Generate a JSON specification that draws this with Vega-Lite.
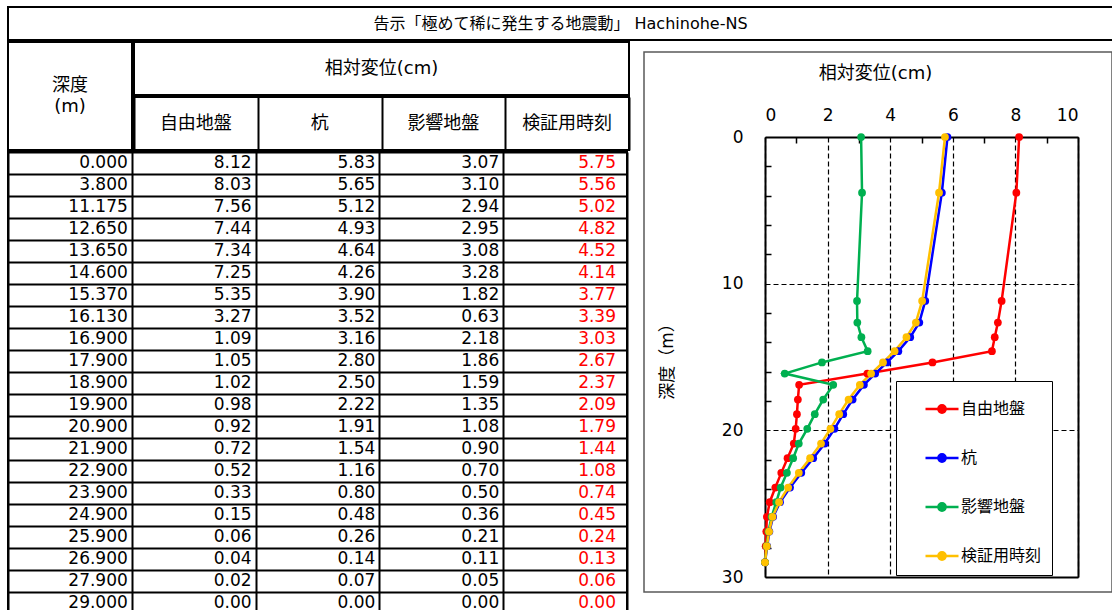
{
  "$schema": "https://vega.github.io/schema/vega-lite/v6.json",
  "padding": {"left": 7, "top": 6, "right": 0, "bottom": 0},
  "background": "white",
  "spacing": 0,
  "config": {
    "font": "DejaVu Sans, Noto Sans CJK JP",
    "view": {"stroke": "black", "strokeWidth": 2},
    "text": {"color": "black"},
    "axis": {"labelColor": "black", "titleColor": "black", "titleFontWeight": "normal"},
    "legend": {"labelColor": "black"}
  },
  "datasets": {
    "d": [
      {"深度": 0.000, "自由地盤": 8.12, "杭": 5.83, "影響地盤": 3.07, "検証用時刻": 5.75},
      {"深度": 3.800, "自由地盤": 8.03, "杭": 5.65, "影響地盤": 3.10, "検証用時刻": 5.56},
      {"深度": 11.175, "自由地盤": 7.56, "杭": 5.12, "影響地盤": 2.94, "検証用時刻": 5.02},
      {"深度": 12.650, "自由地盤": 7.44, "杭": 4.93, "影響地盤": 2.95, "検証用時刻": 4.82},
      {"深度": 13.650, "自由地盤": 7.34, "杭": 4.64, "影響地盤": 3.08, "検証用時刻": 4.52},
      {"深度": 14.600, "自由地盤": 7.25, "杭": 4.26, "影響地盤": 3.28, "検証用時刻": 4.14},
      {"深度": 15.370, "自由地盤": 5.35, "杭": 3.90, "影響地盤": 1.82, "検証用時刻": 3.77},
      {"深度": 16.130, "自由地盤": 3.27, "杭": 3.52, "影響地盤": 0.63, "検証用時刻": 3.39},
      {"深度": 16.900, "自由地盤": 1.09, "杭": 3.16, "影響地盤": 2.18, "検証用時刻": 3.03},
      {"深度": 17.900, "自由地盤": 1.05, "杭": 2.80, "影響地盤": 1.86, "検証用時刻": 2.67},
      {"深度": 18.900, "自由地盤": 1.02, "杭": 2.50, "影響地盤": 1.59, "検証用時刻": 2.37},
      {"深度": 19.900, "自由地盤": 0.98, "杭": 2.22, "影響地盤": 1.35, "検証用時刻": 2.09},
      {"深度": 20.900, "自由地盤": 0.92, "杭": 1.91, "影響地盤": 1.08, "検証用時刻": 1.79},
      {"深度": 21.900, "自由地盤": 0.72, "杭": 1.54, "影響地盤": 0.90, "検証用時刻": 1.44},
      {"深度": 22.900, "自由地盤": 0.52, "杭": 1.16, "影響地盤": 0.70, "検証用時刻": 1.08},
      {"深度": 23.900, "自由地盤": 0.33, "杭": 0.80, "影響地盤": 0.50, "検証用時刻": 0.74},
      {"深度": 24.900, "自由地盤": 0.15, "杭": 0.48, "影響地盤": 0.36, "検証用時刻": 0.45},
      {"深度": 25.900, "自由地盤": 0.06, "杭": 0.26, "影響地盤": 0.21, "検証用時刻": 0.24},
      {"深度": 26.900, "自由地盤": 0.04, "杭": 0.14, "影響地盤": 0.11, "検証用時刻": 0.13},
      {"深度": 27.900, "自由地盤": 0.02, "杭": 0.07, "影響地盤": 0.05, "検証用時刻": 0.06},
      {"深度": 29.000, "自由地盤": 0.00, "杭": 0.00, "影響地盤": 0.00, "検証用時刻": 0.00}
    ]
  },
  "vconcat": [
    {
      "width": 1105,
      "height": 33,
      "data": {"values": [{"t": "告示「極めて稀に発生する地震動」 Hachinohe-NS"}]},
      "mark": {"type": "text", "fontSize": 16, "baseline": "middle"},
      "encoding": {
        "x": {"field": "t", "type": "nominal", "scale": {"type": "band", "paddingInner": 0, "paddingOuter": 0}, "axis": null},
        "y": {"field": "t", "type": "nominal", "scale": {"type": "band", "paddingInner": 0, "paddingOuter": 0}, "axis": null},
        "text": {"field": "t"}
      }
    },
    {
      "spacing": 13,
      "hconcat": [
        {
          "spacing": 0,
          "vconcat": [
            {
              "spacing": 0,
              "hconcat": [
                {
                  "width": 124,
                  "height": 108,
                  "data": {"values": [{"t": "深度\n(m)"}]},
                  "mark": {"type": "text", "fontSize": 18, "lineBreak": "\n", "lineHeight": 21, "baseline": "middle", "dy": -10},
                  "encoding": {
                    "x": {"field": "t", "type": "nominal", "scale": {"type": "band", "paddingInner": 0, "paddingOuter": 0}, "axis": null},
                    "y": {"field": "t", "type": "nominal", "scale": {"type": "band", "paddingInner": 0, "paddingOuter": 0}, "axis": null},
                    "text": {"field": "t"}
                  }
                },
                {
                  "spacing": 0,
                  "vconcat": [
                    {
                      "width": 495,
                      "height": 53,
                      "data": {"values": [{"t": "相対変位(cm)"}]},
                      "mark": {"type": "text", "fontSize": 18, "baseline": "middle"},
                      "encoding": {
                        "x": {"field": "t", "type": "nominal", "scale": {"type": "band", "paddingInner": 0, "paddingOuter": 0}, "axis": null},
                        "y": {"field": "t", "type": "nominal", "scale": {"type": "band", "paddingInner": 0, "paddingOuter": 0}, "axis": null},
                        "text": {"field": "t"}
                      }
                    },
                    {
                      "width": 495,
                      "height": 53,
                      "data": {"values": [{"c": "自由地盤"}, {"c": "杭"}, {"c": "影響地盤"}, {"c": "検証用時刻"}]},
                      "mark": {"type": "text", "fontSize": 18, "baseline": "middle"},
                      "encoding": {
                        "x": {
                          "field": "c", "type": "nominal", "sort": null,
                          "scale": {"type": "band", "paddingInner": 0, "paddingOuter": 0},
                          "axis": {"orient": "bottom", "title": null, "labels": false, "ticks": false, "domain": false, "grid": true, "tickBand": "extent", "gridColor": "black", "gridWidth": 2, "gridOpacity": 1}
                        },
                        "text": {"field": "c"}
                      }
                    }
                  ]
                }
              ]
            },
            {
              "width": 619,
              "height": 462,
              "data": {"name": "d"},
              "transform": [{"fold": ["深度", "自由地盤", "杭", "影響地盤", "検証用時刻"], "as": ["col", "val"]}],
              "encoding": {
                "x": {
                  "field": "col", "type": "nominal", "bandPosition": 1,
                  "scale": {"type": "band", "domain": ["深度", "自由地盤", "杭", "影響地盤", "検証用時刻"], "paddingInner": 0, "paddingOuter": 0},
                  "axis": {"orient": "bottom", "title": null, "labels": false, "ticks": false, "domain": false, "grid": true, "tickBand": "extent", "gridColor": "black", "gridWidth": 2, "gridOpacity": 1}
                },
                "y": {
                  "field": "深度", "type": "ordinal",
                  "scale": {"type": "band", "paddingInner": 0, "paddingOuter": 0},
                  "axis": {"orient": "left", "title": null, "labels": false, "ticks": false, "domain": false, "grid": true, "tickBand": "extent", "gridColor": "black", "gridWidth": 2, "gridOpacity": 1}
                }
              },
              "layer": [
                {
                  "transform": [{"filter": "datum.col === '深度'"}],
                  "mark": {"type": "text", "fontSize": 17, "align": "right", "baseline": "middle", "dx": -4, "color": "black"},
                  "encoding": {"text": {"field": "val", "type": "quantitative", "format": ".3f"}}
                },
                {
                  "transform": [{"filter": "datum.col !== '深度' && datum.col !== '検証用時刻'"}],
                  "mark": {"type": "text", "fontSize": 17, "align": "right", "baseline": "middle", "dx": -4, "color": "black"},
                  "encoding": {"text": {"field": "val", "type": "quantitative", "format": ".2f"}}
                },
                {
                  "transform": [{"filter": "datum.col === '検証用時刻'"}],
                  "mark": {"type": "text", "fontSize": 17, "align": "right", "baseline": "middle", "dx": -11, "color": "#FF0000"},
                  "encoding": {"text": {"field": "val", "type": "quantitative", "format": ".2f"}}
                }
              ]
            }
          ]
        },
        {
          "spacing": 8,
          "vconcat": [
            {
              "width": 468,
              "height": 1,
              "view": {"stroke": null},
              "data": {"values": []},
              "mark": {"type": "point", "opacity": 0}
            },
            {
              "width": 468,
              "height": 540,
              "view": {"stroke": "#595959", "strokeWidth": 1.5},
              "data": {"name": "d"},
              "transform": [{"fold": ["自由地盤", "杭", "影響地盤", "検証用時刻"], "as": ["series", "val"]}],
              "resolve": {"axis": {"x": "independent", "y": "independent"}},
              "layer": [
                {
                  "mark": {"type": "line", "strokeWidth": 2.5, "point": {"filled": true, "size": 60}},
                  "encoding": {
                    "x": {
                      "field": "val", "type": "quantitative",
                      "scale": {"domain": [0, 10], "range": [121, 434], "nice": false, "zero": false},
                      "axis": {"orient": "top", "offset": -85, "values": [0, 2, 4, 6, 8, 10], "grid": true, "gridColor": "black", "gridDash": [5, 3], "gridWidth": 1.2, "gridOpacity": 1, "ticks": false, "tickSize": 0, "domain": true, "domainColor": "black", "domainWidth": 2, "labelFontSize": 17, "labelPadding": 13, "title": "相対変位(cm)", "titleFontSize": 18, "titleX": 231, "titleY": -64, "titleBaseline": "middle"}
                    },
                    "y": {
                      "field": "深度", "type": "quantitative",
                      "scale": {"domain": [0, 30], "range": [85, 525], "nice": false, "zero": false},
                      "axis": {"orient": "left", "offset": -121, "values": [0, 10, 20, 30], "grid": true, "gridColor": "black", "gridDash": [5, 3], "gridWidth": 1.2, "gridOpacity": 1, "ticks": false, "tickSize": 0, "domain": true, "domainColor": "black", "domainWidth": 2, "labelFontSize": 17, "labelPadding": 22, "title": "深度（m）", "titleFontSize": 17, "titleX": -98, "titleBaseline": "middle", "titleAngle": 270}
                    },
                    "color": {
                      "field": "series", "type": "nominal",
                      "scale": {"domain": ["自由地盤", "杭", "影響地盤", "検証用時刻"], "range": ["#FF0000", "#0000FF", "#00B050", "#FFC000"]},
                      "legend": {
                        "orient": "none", "legendX": 888, "legendY": 374, "title": null, "direction": "vertical",
                        "symbolType": "M-1,0L1,0M-0.22,0A0.22,0.22,0,1,1,0.22,0A0.22,0.22,0,1,1,-0.22,0Z",
                        "symbolSize": 1089, "symbolStrokeWidth": 2.5,
                        "labelFontSize": 16, "rowPadding": 22, "padding": 10,
                        "strokeColor": "black", "fillColor": "white",
                        "symbolOffset": 18, "labelOffset": 1,
                        "encode": {"symbols": {"update": {"fill": {"signal": "scale('color', datum.value)"}, "stroke": {"signal": "scale('color', datum.value)"}, "opacity": {"value": 1}}}}
                      }
                    },
                    "order": {"field": "深度", "type": "quantitative"}
                  }
                },
                {
                  "mark": {"type": "point", "opacity": 0},
                  "encoding": {
                    "x": {"field": "val", "type": "quantitative", "axis": {"orient": "top", "offset": -85, "values": [1, 3, 5, 7, 9], "labels": false, "ticks": true, "tickSize": -6, "tickColor": "black", "tickWidth": 1.5, "domain": false, "grid": false, "title": null}},
                    "y": {"field": "深度", "type": "quantitative", "axis": {"orient": "left", "offset": -121, "values": [2, 4, 6, 8, 12, 14, 16, 18, 22, 24, 26, 28], "labels": false, "ticks": true, "tickSize": -6, "tickColor": "black", "tickWidth": 1.5, "domain": false, "grid": false, "title": null}}
                  }
                },
                {
                  "mark": {"type": "point", "opacity": 0},
                  "encoding": {
                    "x": {"field": "val", "type": "quantitative", "axis": {"orient": "bottom", "offset": -15, "labels": false, "ticks": false, "domain": true, "domainColor": "black", "domainWidth": 2, "grid": false, "title": null}},
                    "y": {"field": "深度", "type": "quantitative", "axis": {"orient": "right", "offset": -34, "labels": false, "ticks": false, "domain": true, "domainColor": "black", "domainWidth": 2, "grid": false, "title": null}}
                  }
                }
              ]
            }
          ]
        }
      ]
    }
  ]
}
